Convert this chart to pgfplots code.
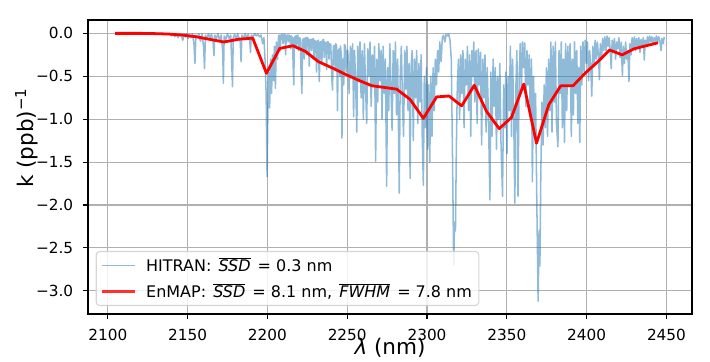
\documentclass[border=0pt]{standalone}
\usepackage{fontspec}
\setmainfont{DejaVu Sans}
\usepackage{pgfplots}
\pgfplotsset{compat=1.18}
\definecolor{tabblue}{RGB}{31,119,180}
\definecolor{gridgray}{RGB}{176,176,176}
\definecolor{legedge}{RGB}{204,204,204}
\begin{document}
\begin{tikzpicture}
\path[use as bounding box] (-63.36pt,-33.84pt) rectangle (447.84pt,226.08pt);
\begin{axis}[
  at={(0,0)}, anchor=south west, scale only axis,
  width=434.88pt, height=211.68pt,
  xmin=2087.6, xmax=2466, ymin=-3.27, ymax=0.156,
  axis line style={black, line width=0.8pt},
  grid=major, major grid style={gridgray, line width=0.8pt},
  tick align=outside, major tick length=3.5pt, tick style={black, line width=0.8pt},
  xtick pos=bottom, ytick pos=left,
  xtick={2100,2150,2200,2250,2300,2350,2400,2450},
  xticklabels={2100,2150,2200,2250,2300,2350,2400,2450},
  ytick={-3,-2.5,-2,-1.5,-1,-0.5,0},
  yticklabels={−3.0,−2.5,−2.0,−1.5,−1.0,−0.5,0.0},
  ticklabel style={font=\fontsize{11}{13}\selectfont, inner sep=0pt},
  xticklabel style={anchor=north, yshift=-7pt},
  yticklabel style={anchor=east, xshift=-7pt},
  xlabel={\textit{λ} (nm)},
  ylabel={k (ppb)\textsuperscript{−1}},
  label style={font=\fontsize{15.5}{18}\selectfont, inner sep=0pt},
  xlabel style={at={(axis description cs:0.5,0)}, anchor=base, yshift=-29.2pt},
  ylabel style={at={(axis description cs:0,0.599)}, anchor=base, yshift=39.4pt},
  legend style={at={(0.0127,0.027)}, anchor=south west, draw=legedge, line width=0.8pt,
    rounded corners=2.5pt, fill=white, fill opacity=0.8, draw opacity=0.8, text opacity=1,
    font=\fontsize{11.5}{13.5}\selectfont, inner xsep=3pt, inner ysep=2pt, row sep=2.8pt,
    cells={anchor=west}, /tikz/every odd column/.append style={column sep=5pt}},
  legend image code/.code={\draw[#1] (0pt,0pt) -- (24pt,0pt);},
]
\addplot[tabblue, draw opacity=0.5, line width=1.1pt, line join=round] table {
2105 0
2110 0
2115 0
2120 0
2125 0
2128 -0.003
2131 0
2134 -0.005
2136 -0.002
2138 -0.008
2139 -0.01
2140 -0.03
2141 -0.005
2142 -0.04
2143 -0.01
2144 -0.05
2145 -0.01
2146 -0.03
2147 -0.08
2147.8 -0.01
2148.7 -0.04
2149.5 -0.005
2150.3 -0.06
2151 -0.01
2152 -0.05
2153 -0.005
2154 -0.12
2154.6 -0.35
2155.2 -0.02
2156 -0.05
2157 -0.005
2158 -0.09
2159 -0.01
2160 -0.15
2160.6 -0.41
2161.2 -0.02
2162 -0.07
2163 -0.005
2164 -0.05
2165 -0.01
2166 -0.1
2166.5 -0.26
2167 -0.02
2168 -0.06
2169 -0.005
2170 -0.08
2171 -0.02
2172 -0.2
2172.4 -0.58
2172.9 -0.03
2174 -0.07
2175 -0.005
2176 -0.06
2177 -0.02
2177.6 -0.3
2178.1 -0.62
2178.6 -0.05
2179.5 -0.01
2180.5 -0.07
2181.3 -0.005
2182.2 -0.05
2183 -0.1
2183.5 -0.33
2184 -0.02
2185 -0.06
2186 -0.005
2187 -0.05
2188 -0.01
2189 -0.1
2189.4 -0.22
2189.9 -0.02
2191 -0.04
2192 -0.005
2193 -0.03
2194 -0.01
2195 -0.04
2196 -0.02
2197 -0.12
2197.8 -0.05
2198.5 -0.3
2199.2 -0.7
2199.8 -1.67
2200.3 -0.9
2200.8 -0.45
2201.4 -0.87
2202 -0.3
2202.6 -0.7
2203.2 -0.25
2203.8 -0.55
2204.4 -0.15
2205 -0.64
2205.6 -0.1
2206.3 -0.3
2207 -0.03
2207.5 -0.02
2208 -0.2
2208.5 -0.02
2209.3 -0.01
2209.8 -0.12
2210.3 -0.02
2211 -0.01
2211.4 -0.25
2211.8 -0.03
2212.6 -0.02
2213 -0.1
2213.4 -0.02
2214.1 -0.03
2214.5 -0.18
2214.9 -0.03
2215.7 -0.05
2216.1 -0.35
2216.5 -0.6
2216.9 -0.05
2217.6 -0.03
2218 -0.15
2218.4 -0.03
2219.1 -0.02
2219.5 -0.2
2219.9 -0.05
2220.6 -0.06
2221 -0.4
2221.6 -0.7
2222 -0.08
2222.7 -0.06
2223.1 -0.3
2223.5 -0.06
2224.2 -0.05
2224.6 -0.25
2225 -0.05
2225.8 -0.07
2226.2 -0.38
2226.6 -0.08
2227.3 -0.07
2227.7 -0.2
2228.1 -0.07
2228.8 -0.06
2229.2 -0.3
2229.6 -0.08
2230.3 -0.1
2230.8 -0.45
2231.2 -0.09
2231.9 -0.08
2232.5 -0.56
2233 -0.1
2233.7 -0.1
2234.1 -0.35
2234.5 -0.08
2235.2 -0.07
2235.6 -0.28
2236 -0.1
2236.7 -0.12
2237.1 -0.42
2237.5 -0.1
2238.2 -0.1
2238.6 -0.3
2239 -0.12
2239.7 -0.13
2240.3 -0.5
2240.8 -0.66
2241.3 -0.15
2242 -0.14
2242.4 -0.4
2242.8 -0.12
2243.4 -0.15
2243.9 -0.9
2244.4 -0.2
2245 -0.18
2245.4 -0.5
2245.8 -0.15
2246.3 -0.25
2246.7 -1.22
2247.2 -0.3
2247.8 -0.6
2248.3 -0.13
2248.9 -0.15
2249.3 -0.45
2249.7 -0.2
2250.4 -0.2
2251.2 -0.7
2252 -0.15
2252.7 -0.5
2253.4 -0.12
2254 -0.97
2254.6 -0.2
2255.3 -0.6
2256 -1.15
2256.6 -0.15
2257.3 -0.55
2258 -0.1
2258.7 -0.75
2259.4 -0.2
2260.1 -1.0
2260.8 -0.12
2261.5 -0.65
2262.2 -1.05
2262.9 -0.18
2263.6 -0.5
2264.3 -0.1
2265 -0.85
2265.7 -0.25
2266.4 -0.6
2267.1 -0.15
2267.8 -1.49
2268.4 -0.3
2269.1 -0.8
2269.8 -0.12
2270.5 -0.55
2271.2 -0.2
2271.8 -1.0
2272.5 -0.15
2273.2 -0.7
2273.9 -0.3
2274.7 -1.78
2275.3 -0.4
2276 -0.9
2276.7 -0.12
2277.4 -0.6
2278.1 -1.13
2278.8 -0.2
2279.5 -0.7
2280.2 -0.1
2280.9 -0.95
2281.6 -0.3
2282.6 -1.86
2283.2 -0.5
2283.9 -0.15
2284.6 -0.8
2285.3 -1.2
2286 -0.2
2286.7 -0.65
2287.4 -0.15
2288.1 -0.9
2288.8 -0.35
2289.4 -1.69
2290 -0.4
2290.7 -0.2
2291.4 -1.25
2292.1 -0.3
2292.8 -0.75
2293.5 -0.2
2294.2 -1.05
2294.9 -0.35
2295.6 -0.8
2296.3 -0.25
2297 -1.2
2297.7 -1.77
2298.3 -0.5
2299 -1.1
2299.7 -0.4
2300.4 -1.35
2301 -0.6
2301.7 -1.5
2302.4 -0.5
2303.1 -1.2
2303.8 -0.4
2304.5 -0.9
2305.2 -0.3
2305.9 -0.6
2306.6 -0.2
2307.3 -0.45
2308 -0.1
2308.8 -0.33
2309.6 -0.05
2310.4 -0.02
2311.2 -0.1
2312 -0.01
2312.8 -0.03
2313.6 -0.01
2314.4 -0.08
2315.2 -0.3
2316 -1.5
2316.7 -2.7
2317.2 -2.2
2317.8 -2.3
2318.4 -1.3
2319 -0.6
2319.7 -0.3
2320.4 -1.0
2321.1 -0.25
2321.8 -0.7
2322.5 -0.2
2323.2 -1.1
2323.9 -0.3
2324.6 -0.6
2325.3 -0.15
2326 -0.9
2326.7 -0.25
2327.4 -1.2
2328.1 -0.2
2328.8 -0.5
2329.3 -0.1
2330 -0.8
2330.7 -0.2
2331.4 -1.05
2332.1 -0.18
2332.8 -0.6
2333.5 -0.22
2334.2 -1.3
2334.9 -0.3
2335.6 -0.75
2336.3 -0.25
2337 -1.15
2337.7 -0.4
2338.4 -0.9
2339.4 -1.94
2340 -0.45
2340.7 -1.2
2341.4 -0.3
2342.1 -0.85
2342.8 -0.4
2343.5 -1.35
2344.2 -0.5
2344.9 -1.0
2345.6 -0.35
2346.3 -1.25
2347.3 -1.9
2348 -0.6
2348.7 -1.1
2349.4 -0.45
2350.1 -1.4
2350.8 -0.5
2351.5 -0.9
2352.2 -0.15
2352.9 -1.2
2353.6 -0.3
2354.3 -0.95
2355 -1.98
2355.7 -0.6
2356.3 -0.2
2357 -1.9
2357.7 -0.5
2358.4 -0.12
2359.1 -0.7
2359.8 -0.1
2360.5 -0.4
2361.2 -0.11
2361.9 -0.85
2362.6 -0.2
2363.3 -0.6
2364 -0.25
2364.7 -1.0
2365.4 -0.3
2366 -1.73
2366.7 -0.5
2367.4 -1.2
2368 -0.7
2368.8 -2.0
2369.6 -3.12
2370.2 -2.3
2370.7 -2.71
2371.3 -1.6
2372 -0.8
2372.7 -1.3
2373.4 -0.6
2374.1 -1.1
2374.8 -0.4
2375.5 -1.2
2376.2 -0.3
2376.9 -0.9
2377.6 -0.1
2378.3 -1.15
2379 -0.15
2379.7 -0.8
2380.4 -0.1
2381.1 -1.05
2382 -1.32
2382.7 -0.2
2383.4 -0.7
2384.1 -0.1
2384.8 -1.1
2385.5 -0.3
2386.1 -1.27
2386.8 -0.12
2387.5 -0.9
2388.2 -0.15
2388.9 -0.6
2389.6 -0.12
2390.4 -1.2
2391 -0.3
2391.7 -0.95
2392.4 -0.1
2393.1 -0.7
2393.8 -0.2
2394.5 -1.05
2395.2 -0.4
2395.7 -1.27
2396.3 -0.15
2397 -0.6
2397.7 -0.1
2398.4 -0.45
2399.1 -0.08
2399.8 -0.35
2400.5 -0.1
2401.2 -0.55
2401.9 -0.2
2402.6 -0.4
2403.2 -0.73
2403.9 -0.15
2404.6 -0.35
2405.3 -0.08
2406 -0.3
2406.7 -0.1
2407.4 -0.25
2408 -0.54
2408.6 -0.12
2409.3 -0.3
2410 -0.06
2410.7 -0.2
2411.4 -0.04
2412.1 -0.2
2412.8 -0.03
2413.5 -0.15
2414.2 -0.05
2414.9 -0.25
2415.4 -0.41
2416 -0.08
2416.7 -0.22
2417.4 -0.06
2418.1 -0.3
2418.8 -0.1
2419.5 -0.18
2420.2 -0.05
2420.9 -0.28
2421.6 -0.1
2422.4 -0.49
2423 -0.15
2423.7 -0.35
2424.4 -0.1
2425.1 -0.3
2425.8 -0.2
2426.5 -0.56
2427.1 -0.12
2427.8 -0.25
2428.5 -0.05
2429.2 -0.18
2429.9 -0.04
2430.6 -0.2
2431.3 -0.06
2432 -0.15
2432.7 -0.05
2433.4 -0.22
2434.1 -0.07
2434.8 -0.16
2435.5 -0.05
2436.1 -0.31
2436.7 -0.08
2437.4 -0.14
2438.1 -0.04
2438.8 -0.12
2439.5 -0.03
2440.2 -0.1
2440.9 -0.04
2441.6 -0.13
2442.3 -0.05
2443 -0.09
2443.7 -0.03
2444.4 -0.11
2445.1 -0.04
2445.8 -0.08
2446.6 -0.2
2447.2 -0.06
2448 -0.12
2448.6 -0.04
};
\addlegendentry{HITRAN: \hspace{1.5pt}$\overline{\mbox{\textit{SSD}}}$\hspace{1.5pt} = 0.3 nm}
\addplot[red, line width=2pt, line join=round] table {
2104.6 0
2113 0
2121.5 0
2130 -0.003
2138.5 -0.008
2147 -0.02
2155.5 -0.04
2164 -0.07
2172.7 -0.10
2182 -0.068
2190.8 -0.055
2199.4 -0.465
2207.7 -0.175
2216 -0.144
2223.8 -0.21
2232 -0.33
2241.5 -0.41
2249.8 -0.485
2257.6 -0.55
2265.4 -0.61
2273.2 -0.63
2281 -0.65
2289.4 -0.77
2297.7 -0.99
2306 -0.74
2313.8 -0.73
2321.7 -0.845
2329.6 -0.605
2337.3 -0.91
2345.2 -1.11
2352.9 -0.98
2360.6 -0.59
2368.6 -1.28
2376.3 -0.83
2383.8 -0.61
2391.5 -0.61
2399 -0.465
2407 -0.33
2414.4 -0.194
2422.3 -0.25
2429.6 -0.18
2437.3 -0.144
2444.6 -0.11
};
\addlegendentry{EnMAP: \hspace{1.5pt}$\overline{\mbox{\textit{SSD}}}$\hspace{1.5pt} = 8.1 nm, \hspace{1.5pt}$\overline{\mbox{\textit{FWHM}}}$\hspace{1.5pt} = 7.8 nm}
\node[anchor=base west, inner sep=0pt, font=\fontsize{7.5}{9}\selectfont] at (rel axis cs:0,1) [yshift=2.5pt] {×10\textsuperscript{−4}};
\end{axis}
\end{tikzpicture}
\end{document}
